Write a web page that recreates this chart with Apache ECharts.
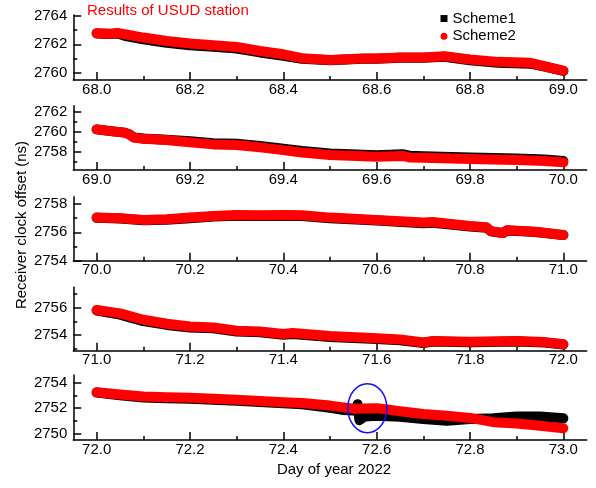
<!DOCTYPE html>
<html>
<head>
<meta charset="utf-8">
<script src="https://cdn.jsdelivr.net/npm/echarts@6/dist/echarts.min.js"></script>
<style>
  html, body { margin: 0; padding: 0; background: #fff; }
  #chart { width: 596px; height: 488px; }
</style>
</head>
<body>
<div id="chart"></div>
<script>
// Receiver clock offset of the USUD station, one panel per day of year 2022.
// Each series row: [fraction of day, clock offset in ns].
const days = [68, 69, 70, 71, 72];

const scheme1Day68 = [[0.00, 2762.76], [0.03, 2762.72], [0.045, 2762.75], [0.06, 2762.60], [0.10, 2762.35], [0.15, 2762.10], [0.20, 2761.93], [0.25, 2761.82], [0.30, 2761.70], [0.35, 2761.43], [0.40, 2761.20], [0.44, 2760.98], [0.50, 2760.88], [0.57, 2760.98], [0.60, 2760.98], [0.65, 2761.05], [0.70, 2761.05], [0.745, 2761.13], [0.80, 2760.88], [0.86, 2760.71], [0.93, 2760.64], [0.965, 2760.40], [1.00, 2760.13]];
const scheme2Day68 = [[0.00, 2762.78], [0.03, 2762.74], [0.045, 2762.80], [0.06, 2762.70], [0.10, 2762.47], [0.15, 2762.23], [0.20, 2762.05], [0.25, 2761.93], [0.30, 2761.81], [0.35, 2761.53], [0.40, 2761.30], [0.44, 2761.03], [0.50, 2760.90], [0.57, 2761.00], [0.60, 2761.00], [0.65, 2761.07], [0.70, 2761.07], [0.745, 2761.17], [0.80, 2760.94], [0.86, 2760.77], [0.93, 2760.70], [0.965, 2760.42], [1.00, 2760.15]];

const scheme1Day69 = [[0.00, 2760.24], [0.03, 2760.07], [0.06, 2759.92], [0.07, 2759.75], [0.08, 2759.45], [0.10, 2759.33], [0.15, 2759.22], [0.20, 2759.06], [0.25, 2758.87], [0.30, 2758.82], [0.35, 2758.59], [0.40, 2758.32], [0.44, 2758.09], [0.50, 2757.85], [0.60, 2757.68], [0.655, 2757.78], [0.67, 2757.62], [0.70, 2757.57], [0.80, 2757.44], [0.90, 2757.34], [0.96, 2757.25], [1.00, 2757.10]];
const scheme2Day69 = [[0.00, 2760.24], [0.03, 2760.07], [0.06, 2759.92], [0.07, 2759.75], [0.08, 2759.42], [0.10, 2759.30], [0.15, 2759.18], [0.20, 2758.95], [0.25, 2758.75], [0.30, 2758.68], [0.35, 2758.45], [0.40, 2758.18], [0.44, 2757.95], [0.50, 2757.70], [0.60, 2757.52], [0.655, 2757.60], [0.67, 2757.45], [0.70, 2757.42], [0.80, 2757.29], [0.90, 2757.19], [0.96, 2757.10], [1.00, 2756.96]];

const scheme1Day70 = [[0.00, 2757.02], [0.05, 2756.97], [0.10, 2756.84], [0.15, 2756.88], [0.20, 2756.98], [0.25, 2757.10], [0.30, 2757.16], [0.35, 2757.14], [0.40, 2757.16], [0.44, 2757.14], [0.50, 2756.98], [0.60, 2756.82], [0.70, 2756.63], [0.72, 2756.67], [0.80, 2756.40], [0.835, 2756.32], [0.845, 2756.06], [0.87, 2755.94], [0.88, 2756.13], [0.94, 2756.02], [1.00, 2755.80]];
const scheme2Day70 = [[0.00, 2757.03], [0.05, 2756.99], [0.10, 2756.87], [0.15, 2756.92], [0.20, 2757.03], [0.25, 2757.15], [0.30, 2757.22], [0.35, 2757.20], [0.40, 2757.22], [0.44, 2757.20], [0.50, 2757.03], [0.60, 2756.87], [0.70, 2756.68], [0.72, 2756.72], [0.80, 2756.44], [0.835, 2756.35], [0.845, 2756.08], [0.87, 2755.95], [0.88, 2756.15], [0.94, 2756.04], [1.00, 2755.81]];

const scheme1Day71 = [[0.00, 2755.80], [0.05, 2755.50], [0.10, 2755.02], [0.15, 2754.74], [0.20, 2754.55], [0.25, 2754.50], [0.30, 2754.25], [0.35, 2754.20], [0.40, 2754.02], [0.42, 2754.08], [0.50, 2753.86], [0.60, 2753.70], [0.65, 2753.62], [0.70, 2753.42], [0.72, 2753.52], [0.80, 2753.47], [0.90, 2753.52], [0.96, 2753.45], [1.00, 2753.30]];
const scheme2Day71 = [[0.00, 2755.83], [0.05, 2755.59], [0.10, 2755.12], [0.15, 2754.83], [0.20, 2754.62], [0.25, 2754.56], [0.30, 2754.31], [0.35, 2754.26], [0.40, 2754.07], [0.42, 2754.15], [0.50, 2753.93], [0.60, 2753.76], [0.65, 2753.68], [0.70, 2753.45], [0.72, 2753.56], [0.80, 2753.51], [0.90, 2753.56], [0.96, 2753.48], [1.00, 2753.32]];

const scheme1Day72 = [[0.00, 2753.22], [0.05, 2753.00], [0.10, 2752.84], [0.15, 2752.78], [0.20, 2752.74], [0.30, 2752.57], [0.40, 2752.38], [0.44, 2752.30], [0.50, 2752.02], [0.53, 2751.85], [0.557, 2751.80], [0.559, 2752.30], [0.561, 2752.30], [0.563, 2751.05], [0.567, 2751.05], [0.575, 2751.35], [0.60, 2751.40], [0.65, 2751.33], [0.70, 2751.15], [0.75, 2751.00], [0.80, 2751.15], [0.85, 2751.20], [0.90, 2751.35], [0.95, 2751.35], [1.00, 2751.20]];
const scheme2Day72 = [[0.00, 2753.25], [0.05, 2753.07], [0.10, 2752.91], [0.15, 2752.85], [0.20, 2752.81], [0.30, 2752.65], [0.40, 2752.46], [0.44, 2752.40], [0.50, 2752.20], [0.55, 2751.96], [0.60, 2752.00], [0.65, 2751.75], [0.70, 2751.54], [0.75, 2751.41], [0.80, 2751.23], [0.85, 2750.90], [0.90, 2750.80], [0.95, 2750.62], [1.00, 2750.42]];

const scheme1 = [scheme1Day68, scheme1Day69, scheme1Day70, scheme1Day71, scheme1Day72];
const scheme2 = [scheme2Day68, scheme2Day69, scheme2Day70, scheme2Day71, scheme2Day72];

// Y ticks per panel: labelled (major) and unlabelled (minor) values, plus axis extents
const yMajorTicks = [[2760, 2762, 2764], [2758, 2760, 2762], [2754, 2756, 2758], [2754, 2756], [2750, 2752, 2754]];
const yMinorTicks = [[2761, 2763], [2757, 2759, 2761], [2755, 2757], [2753, 2755, 2757], [2751, 2753]];
const yExtents = [[2759.5, 2764.05], [2756.2, 2762.6], [2754, 2758.5], [2752.85, 2757.5], [2749.5, 2754.6]];
// X ticks as offsets from the start of each day
const xMajorOffsets = [0, 0.2, 0.4, 0.6, 0.8, 1.0];
const xMinorOffsets = [0.1, 0.3, 0.5, 0.7, 0.9];

// Circled feature in the last panel
const highlight = { day: 72.58, value: 2752.0 };

const seriesNames = ['Scheme1', 'Scheme2'];

// Panel frames (pixels)
const panelTops = [15, 105.7, 196.7, 287.3, 375];
const panelHeights = [65, 64.3, 64, 63.4, 65];

const FONT = 'Liberation Sans, Arial, sans-serif';
const chart = echarts.init(document.getElementById('chart'), null, { renderer: 'canvas' });

const grids = [], xAxes = [], yAxes = [], series = [];
const nP = days.length;

days.forEach((d, i) => {
  grids.push({ left: 73.3, right: 9.3, top: panelTops[i], height: panelHeights[i] });
  const xMin = d - 0.05, xMax = d + 1.05;
  const major = xMajorOffsets.map(o => +(d + o).toFixed(1));
  const minor = xMinorOffsets.map(o => +(d + o).toFixed(1));
  xAxes[i] = {
    type: 'value', gridIndex: i, min: xMin, max: xMax, position: 'bottom',
    axisLine: { onZero: false, lineStyle: { color: '#000', width: 1.5 } },
    axisTick: { inside: true, length: 8, customValues: major, lineStyle: { color: '#000', width: 1.5 } },
    axisLabel: { customValues: major, margin: 2, color: '#000', fontSize: 15, fontFamily: FONT,
      formatter: v => v.toFixed(1) },
    splitLine: { show: false }
  };
  xAxes[nP + i] = {
    type: 'value', gridIndex: i, min: xMin, max: xMax, position: 'bottom',
    axisLine: { show: false, onZero: false },
    axisTick: { inside: true, length: 4, customValues: minor, lineStyle: { color: '#000', width: 1.5 } },
    axisLabel: { show: false }, splitLine: { show: false }
  };
  yAxes[i] = {
    type: 'value', gridIndex: i, min: yExtents[i][0], max: yExtents[i][1], position: 'left',
    axisLine: { show: true, onZero: false, lineStyle: { color: '#000', width: 1.5 } },
    axisTick: { show: true, inside: true, length: 8, customValues: yMajorTicks[i], lineStyle: { color: '#000', width: 1.5 } },
    axisLabel: { customValues: yMajorTicks[i], margin: 6, color: '#000', fontSize: 15, fontFamily: FONT,
      formatter: v => String(Math.round(v)) },
    splitLine: { show: false }
  };
  yAxes[nP + i] = {
    type: 'value', gridIndex: i, min: yExtents[i][0], max: yExtents[i][1], position: 'left',
    axisLine: { show: false, onZero: false },
    axisTick: { show: true, inside: true, length: 4, customValues: yMinorTicks[i], lineStyle: { color: '#000', width: 1.5 } },
    axisLabel: { show: false }, splitLine: { show: false }
  };

  const toData = rows => rows.map(r => [d + r[0], r[1]]);
  [scheme1[i], scheme2[i]].forEach((rows, k) => {
    const color = k === 0 ? '#000000' : '#ff0000';
    series.push({
      name: seriesNames[k], type: 'line', xAxisIndex: i, yAxisIndex: i,
      data: toData(rows), showSymbol: false, symbol: k === 0 ? 'rect' : 'circle',
      z: 2 + k, silent: true,
      itemStyle: { color },
      lineStyle: { color, width: 10, cap: 'round', join: 'round' },
      emphasis: { disabled: true }
    });
  });
});

chart.setOption({
  animation: false,
  backgroundColor: '#fff',
  grid: grids,
  xAxis: xAxes,
  yAxis: yAxes,
  legend: {
    orient: 'vertical', left: 435.5, top: 6, itemWidth: 7, itemHeight: 7, itemGap: 2.7,
    selectedMode: false,
    textStyle: { color: '#000', fontSize: 15, fontFamily: FONT },
    data: [{ name: 'Scheme1', icon: 'rect' }, { name: 'Scheme2', icon: 'circle' }]
  },
  series
});

const c = chart.convertToPixel({ xAxisIndex: nP - 1, yAxisIndex: nP - 1 }, [highlight.day, highlight.value]);

chart.setOption({
  graphic: [
    { type: 'text', left: 87, top: 3, silent: true,
      style: { text: 'Results of USUD station', fill: '#ff0000', fontSize: 15, fontFamily: FONT } },
    { type: 'text', x: 22, y: 225, rotation: Math.PI / 2, silent: true,
      style: { text: 'Receiver clock offset (ns)', fill: '#000', fontSize: 15, fontFamily: FONT,
        align: 'center', verticalAlign: 'middle' } },
    { type: 'text', x: 334, y: 469.5, silent: true,
      style: { text: 'Day of year 2022', fill: '#000', fontSize: 15, fontFamily: FONT,
        align: 'center', verticalAlign: 'middle' } },
    { type: 'ellipse', silent: true, z: 100,
      shape: { cx: c[0], cy: c[1], rx: 19.5, ry: 24.5 },
      style: { fill: 'none', stroke: '#1010ff', lineWidth: 1.5 } }
  ]
});
</script>
</body>
</html>
